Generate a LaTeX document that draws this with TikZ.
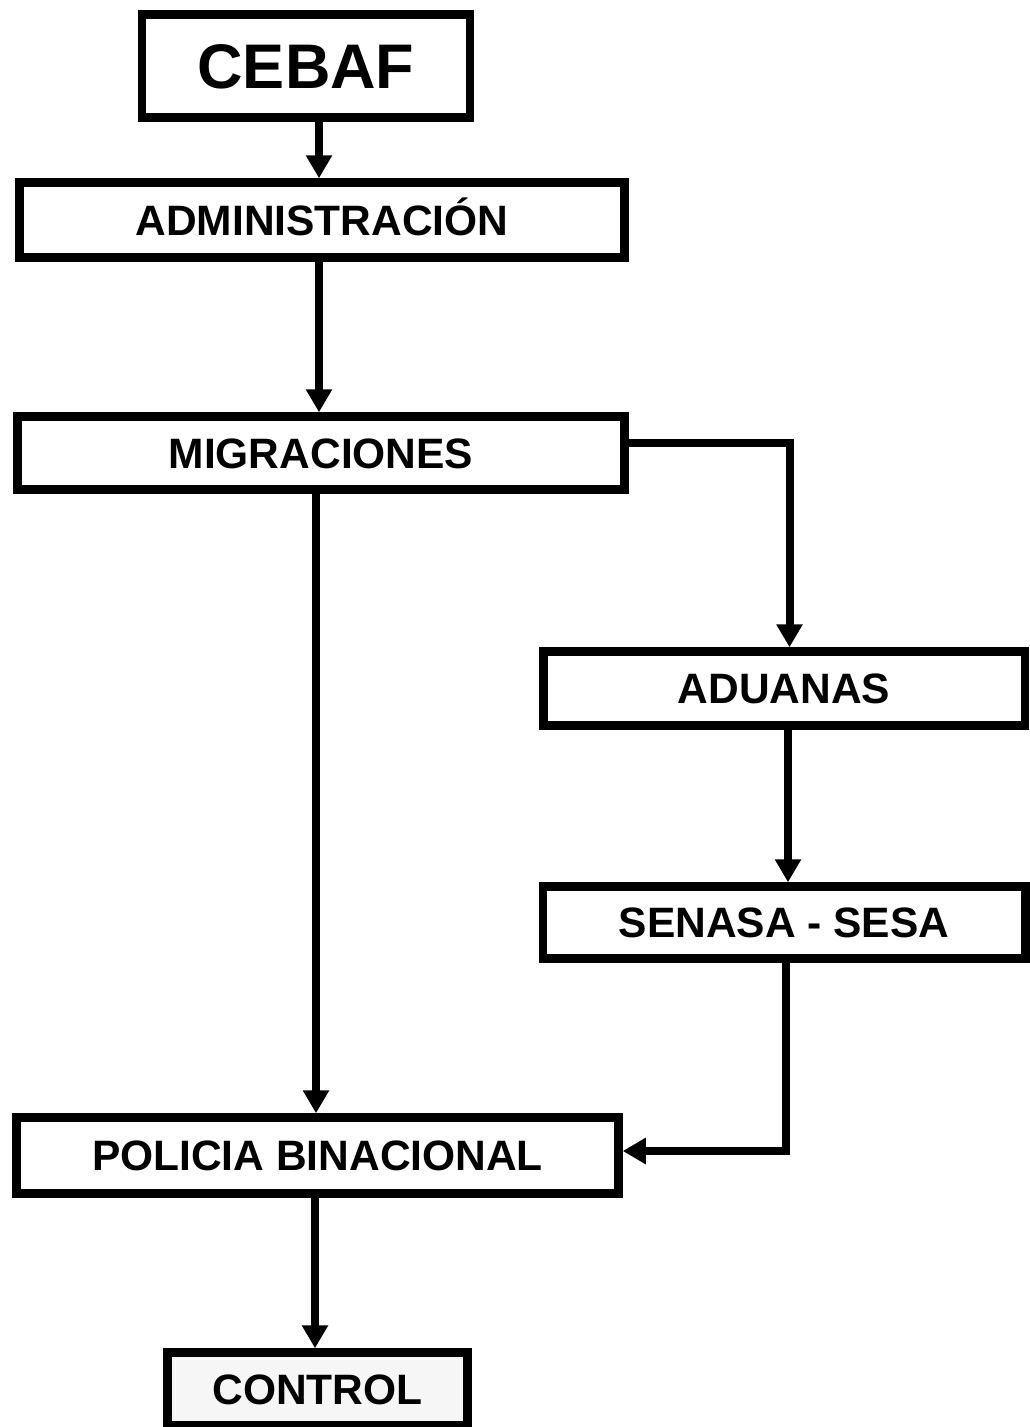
\documentclass[tikz,border=0pt]{standalone}
\usepackage{fontspec}
\setmainfont{Liberation Sans}
\usetikzlibrary{arrows.meta}
\begin{document}
\begin{tikzpicture}[x=1pt,y=-1pt,
  boxnode/.style={draw=black, line width=8.5pt, inner sep=0pt, font=\fontsize{42.5}{44}\selectfont\bfseries,
    text height=30.5pt, text depth=0pt, align=center},
  arr/.style={line width=8pt, -{Triangle[width=25pt,length=23pt]}},
  conn/.style={line width=8pt}]
\fill[white] (0,0) rectangle (1029,1427);
\useasboundingbox (0,0) rectangle (1029,1427);

\node[boxnode, minimum width=328pt, minimum height=103pt,
      font=\fontsize{63}{66}\selectfont\bfseries, text height=45pt] (cebaf) at (306,66) {CEBAF};
\node[boxnode, minimum width=605pt, minimum height=75pt] (admin) at (322,220) {ADMINISTRACIÓN};
\node[boxnode, minimum width=607pt, minimum height=73pt] (migr) at (321,453) {MIGRACIONES};
\node[boxnode, minimum width=481.5pt, minimum height=74pt] (aduanas) at (784,688.5) {ADUANAS};
\node[boxnode, minimum width=482.5pt, minimum height=72pt] (senasa) at (784,922.5) {SENASA - SESA};
\node[boxnode, minimum width=602pt, minimum height=76pt] (policia) at (317.5,1155.5) {POLICIA BINACIONAL};
\node[boxnode, fill=gray!7, minimum width=300pt, minimum height=73pt] (control) at (317.5,1389) {CONTROL};

\coordinate (c1) at (319,0);
\coordinate (c2) at (319,0);
\coordinate (c3) at (316,0);
\coordinate (c4) at (788,0);
\coordinate (c5) at (315,0);
\coordinate (r1) at (789.5,443);
\coordinate (r2) at (786,1151);

\draw[arr] (cebaf.south -| c1) -- (admin.north -| c1);
\draw[arr] (admin.south -| c2) -- (migr.north -| c2);
\draw[arr] (migr.south -| c3) -- (policia.north -| c3);
\draw[arr] (migr.east |- r1) -- (r1) -- (aduanas.north -| r1);
\draw[arr] (aduanas.south -| c4) -- (senasa.north -| c4);
\draw[arr] (senasa.south -| r2) -- (r2) -- (policia.east |- r2);
\draw[arr] (policia.south -| c5) -- (control.north -| c5);
\end{tikzpicture}
\end{document}
